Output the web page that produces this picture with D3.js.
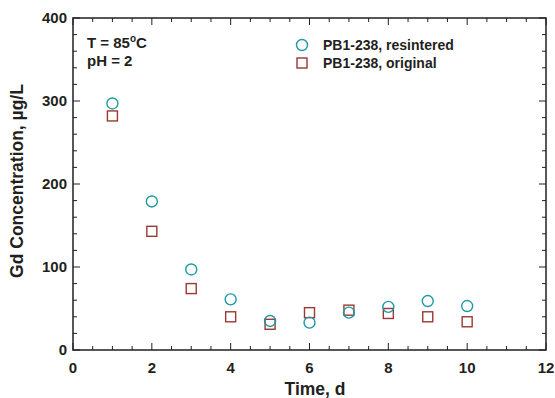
<!DOCTYPE html>
<html>
<head>
<meta charset="utf-8">
<script src="https://cdn.jsdelivr.net/npm/d3@7"></script>
<style>
  body { margin: 0; background: #fff; }
  text { font-family: "Liberation Sans", Arial, sans-serif; font-weight: bold; fill: #231f20; }
</style>
</head>
<body>
<div id="chart"></div>
<script>
const days = [1, 2, 3, 4, 5, 6, 7, 8, 9, 10];
const resintered = [297, 179, 97, 61, 35, 33, 45, 52, 59, 53];
const original = [282, 143, 74, 40, 31, 45, 48, 44, 40, 34];
const xTicks = [0, 2, 4, 6, 8, 10, 12];
const yTicks = [0, 100, 200, 300, 400];
const seriesNames = ["PB1-238, resintered", "PB1-238, original"];

const width = 555;
const height = 398;
const margin = { top: 18, right: 9, bottom: 48, left: 73 };
const chartWidth = width - margin.left - margin.right;
const chartHeight = height - margin.top - margin.bottom;

const cyan = "#1b9aa3";
const red = "#9b3833";

const xScale = d3.scaleLinear().domain([0, 12]).range([0, chartWidth]);
const yScale = d3.scaleLinear().domain([0, 400]).range([chartHeight, 0]);

const svg = d3.select("#chart").append("svg")
  .attr("width", width)
  .attr("height", height);

const chart = svg.append("g")
  .attr("transform", `translate(${margin.left},${margin.top})`);

// frame
chart.append("rect")
  .attr("width", chartWidth)
  .attr("height", chartHeight)
  .style("fill", "none")
  .style("stroke", "#231f20")
  .style("stroke-width", 1.5);

// ticks, inward on all four sides
const xMinor = d3.range(0, 12.01, 0.5);
const yMinor = d3.range(0, 400.1, 20);

const ticks = chart.append("g").style("stroke", "#231f20").style("stroke-width", 1);
xMinor.forEach(v => {
  const len = v % 2 === 0 ? 7 : 4;
  ticks.append("line").attr("x1", xScale(v)).attr("x2", xScale(v))
    .attr("y1", chartHeight).attr("y2", chartHeight - len);
  ticks.append("line").attr("x1", xScale(v)).attr("x2", xScale(v))
    .attr("y1", 0).attr("y2", len);
});
yMinor.forEach(v => {
  const len = v % 100 === 0 ? 7 : 4;
  ticks.append("line").attr("y1", yScale(v)).attr("y2", yScale(v))
    .attr("x1", 0).attr("x2", len);
  ticks.append("line").attr("y1", yScale(v)).attr("y2", yScale(v))
    .attr("x1", chartWidth).attr("x2", chartWidth - len);
});

// tick labels
chart.selectAll(".xlabel").data(xTicks).enter()
  .append("text")
  .attr("class", "xlabel")
  .attr("x", d => xScale(d))
  .attr("y", chartHeight + 23)
  .attr("text-anchor", "middle")
  .style("font-size", "15px")
  .text(d => d);

chart.selectAll(".ylabel").data(yTicks).enter()
  .append("text")
  .attr("class", "ylabel")
  .attr("x", -6)
  .attr("y", d => yScale(d))
  .attr("dy", "0.36em")
  .attr("text-anchor", "end")
  .style("font-size", "15px")
  .text(d => d);

// axis titles
svg.append("text")
  .attr("x", 315)
  .attr("y", 395)
  .attr("text-anchor", "middle")
  .style("font-size", "17.5px")
  .text("Time, d");

svg.append("text")
  .attr("transform", `translate(23, 181) rotate(-90)`)
  .attr("text-anchor", "middle")
  .style("font-size", "17.5px")
  .text("Gd Concentration, µg/L");

// annotation
const note = chart.append("text")
  .attr("x", 14)
  .attr("y", 30)
  .style("font-size", "15px");
note.append("tspan").text("T = 85");
note.append("tspan").attr("dy", -6).style("font-size", "10px").text("o");
note.append("tspan").attr("dy", 6).text("C");

chart.append("text")
  .attr("x", 14)
  .attr("y", 48)
  .style("font-size", "15px")
  .text("pH = 2");

// data points
chart.selectAll(".square").data(days).enter()
  .append("rect")
  .attr("class", "square")
  .attr("x", d => xScale(d) - 5)
  .attr("y", (d, i) => yScale(original[i]) - 5)
  .attr("width", 10)
  .attr("height", 10)
  .style("fill", "none")
  .style("stroke", red)
  .style("stroke-width", 1.4);

chart.selectAll(".circle").data(days).enter()
  .append("circle")
  .attr("class", "circle")
  .attr("cx", d => xScale(d))
  .attr("cy", (d, i) => yScale(resintered[i]))
  .attr("r", 5.5)
  .style("fill", "none")
  .style("stroke", cyan)
  .style("stroke-width", 1.4);

// legend
const legend = chart.append("g").attr("transform", "translate(229, 27)");
legend.append("circle")
  .attr("cx", 0).attr("cy", 0).attr("r", 5.5)
  .style("fill", "none").style("stroke", cyan).style("stroke-width", 1.4);
legend.append("rect")
  .attr("x", -5).attr("y", 13).attr("width", 10).attr("height", 10)
  .style("fill", "none").style("stroke", red).style("stroke-width", 1.4);
legend.selectAll(".legend-item").data(seriesNames).enter()
  .append("text")
  .attr("class", "legend-item")
  .attr("x", 21)
  .attr("y", (d, i) => i * 18)
  .attr("dy", "0.36em")
  .style("font-size", "14px")
  .text(d => d);
</script>
</body>
</html>
